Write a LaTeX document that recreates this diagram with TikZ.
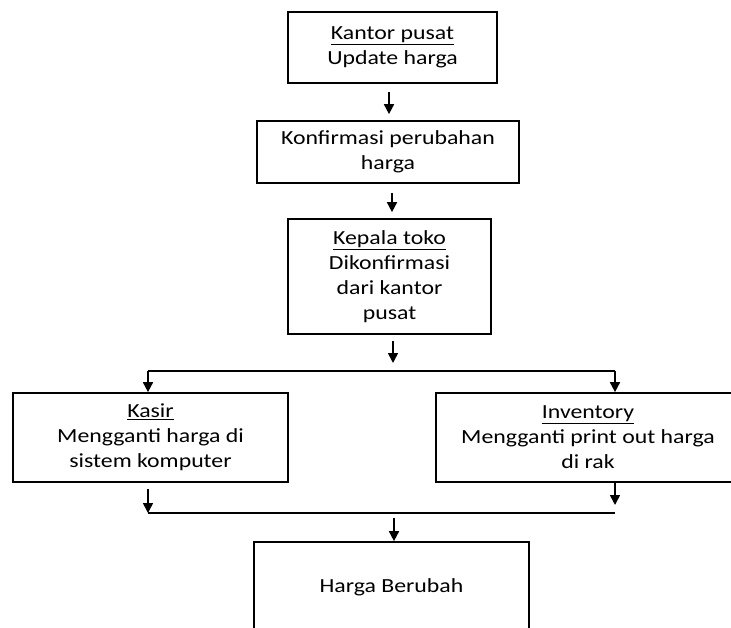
\documentclass[tikz,border=0pt]{standalone}
\usepackage{fontspec}
\setmainfont{Carlito}[FakeStretch=1.19]
\usetikzlibrary{arrows.meta,calc}
\begin{document}
\begin{tikzpicture}[x=1pt,y=-1pt,
  box/.style={draw=black,line width=1.7pt,rectangle,align=center,inner sep=0pt,
    font=\fontsize{20pt}{25pt}\selectfont},
  arr/.style={line width=1.7pt,-{Triangle[length=10pt,width=10pt]}},
  ln/.style={line width=1.7pt}]
\clip (0,0) rectangle (731,627);
\fill[white] (0,0) rectangle (731,627);
\node[box,minimum width=209pt,minimum height=71pt] (b1) at (392.5,47.5) {\underline{Kantor pusat}\\Update harga};
\node[box,minimum width=262pt,minimum height=62pt] (b2) at (388,152) {Konfirmasi perubahan\\harga};
\node[box,minimum width=203pt,minimum height=115pt] (b3) at (389.5,276.5) {\underline{Kepala toko}\\Dikonfirmasi\\dari kantor\\pusat};
\node[box,minimum width=275pt,minimum height=89pt] (b4) at (150.5,437.5) {\underline{Kasir}\\Mengganti harga di\\sistem komputer};
\node[box,minimum width=304pt,minimum height=89pt] (b5) at (588,437.5) {\underline{Inventory}\\Mengganti print out harga\\di rak};
\node[box,minimum width=275pt,minimum height=90pt] (b6) at (391.5,587) {Harga Berubah};
\coordinate (L1) at (148,371);
\coordinate (R1) at (615,371);
\coordinate (M1) at (393,371);
\coordinate (L2) at (148,513);
\coordinate (R2) at (615,513);
\coordinate (M2) at (394,513);
\draw[arr,shorten <=8pt,shorten >=6pt] ([xshift=-3.5pt]b1.south) -- ([xshift=-3.5pt]b1.south |- b2.north);
\draw[arr,shorten <=9pt,shorten >=6pt] ([xshift=2.5pt]b3.north |- b2.south) -- ([xshift=2.5pt]b3.north);
\draw[arr,shorten <=6pt,shorten >=8pt] (M1 |- b3.south) -- (M1);
\draw[ln] (L1) -- (R1);
\draw[arr] (L1) -- (L1 |- b4.north);
\draw[arr] (R1) -- (R1 |- b5.north);
\draw[arr,shorten <=6pt] (L2 |- b4.south) -- (L2);
\draw[arr,shorten >=8pt] (R2 |- b5.south) -- (R2);
\draw[ln] (L2) -- (R2);
\draw[arr,shorten <=5pt] (M2) -- (M2 |- b6.north);
\end{tikzpicture}
\end{document}
